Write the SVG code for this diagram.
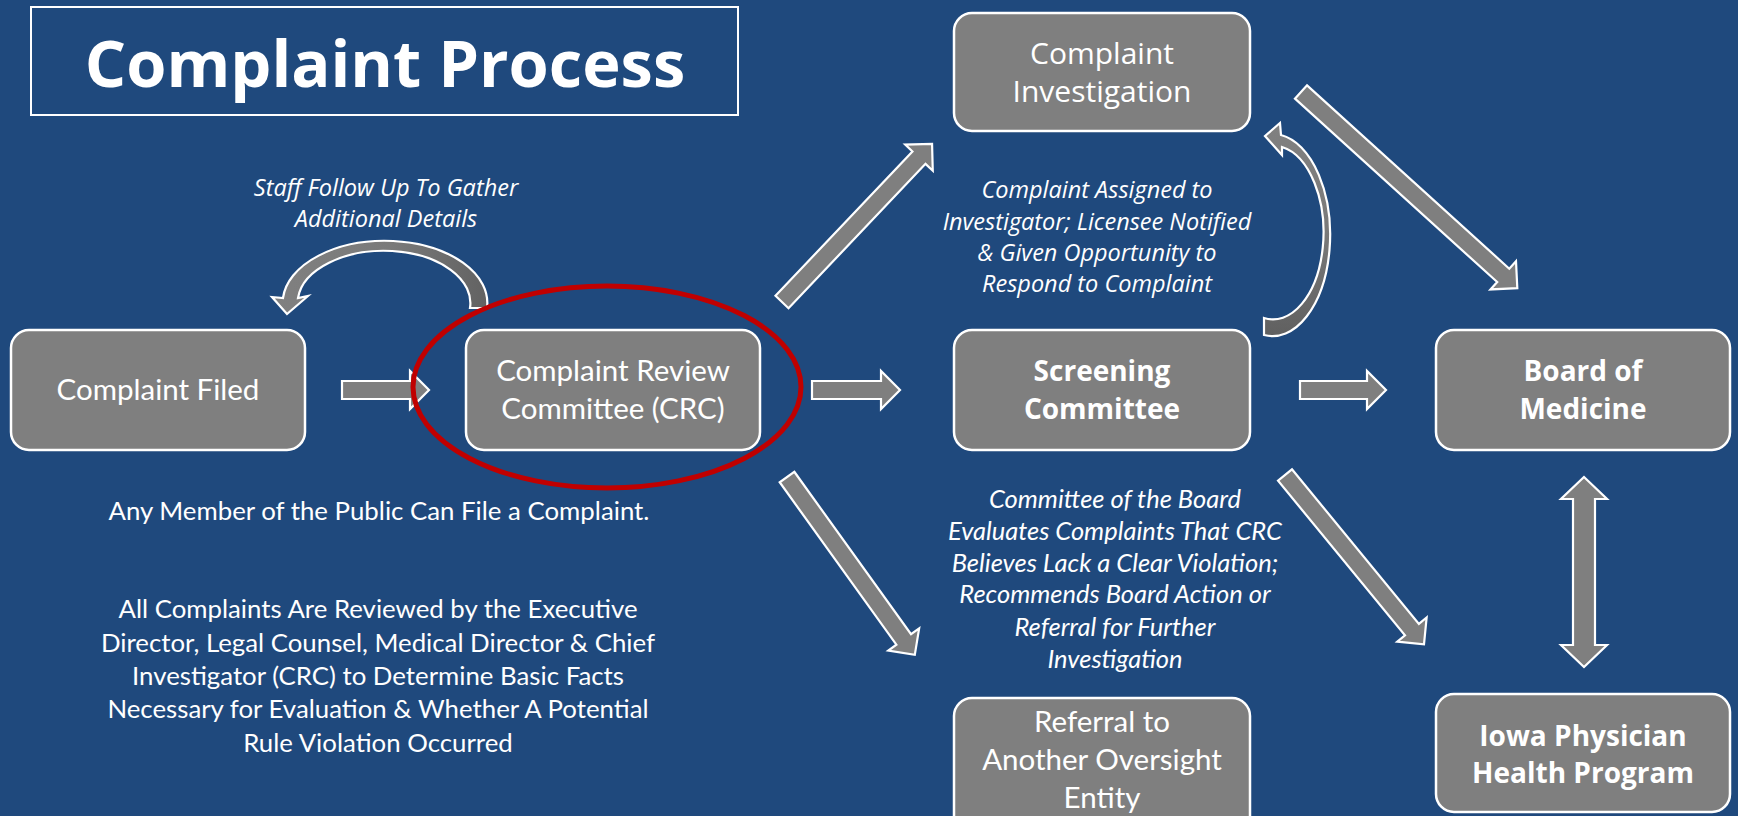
<svg xmlns="http://www.w3.org/2000/svg" width="1738" height="816" viewBox="0 0 1738 816">
  <defs>
    <style>
      .bg { fill: #1F497D; }
      .box { fill: #7F7F7F; stroke: #FFFFFF; stroke-width: 2.5; }
      .arrow { fill: #7F7F7F; stroke: #FFFFFF; stroke-width: 2.2; stroke-linejoin: miter; }
      .t { fill: #FFFFFF; text-anchor: middle; }
      .node { font-family: Lato, "Open Sans", sans-serif; font-size: 29.5px; }
      .wide { font-family: "Open Sans", sans-serif; font-size: 30px; }
      .bold { font-family: "Open Sans", sans-serif; font-size: 28px; font-weight: bold; }
      .note { font-family: "Open Sans", sans-serif; font-size: 23.5px; font-style: italic; }
      .cond { font-family: Lato, sans-serif; font-size: 25.5px; font-style: italic; }
      .body { font-family: Lato, sans-serif; font-size: 25.8px; }
    </style>
    <linearGradient id="curveH" x1="0" y1="0" x2="1" y2="0">
      <stop offset="0" stop-color="#808080"/>
      <stop offset="0.55" stop-color="#7A7A7A"/>
      <stop offset="1" stop-color="#626262"/>
    </linearGradient>
    <linearGradient id="curveV" x1="0" y1="0" x2="0" y2="1">
      <stop offset="0" stop-color="#808080"/>
      <stop offset="0.5" stop-color="#7A7A7A"/>
      <stop offset="1" stop-color="#606060"/>
    </linearGradient>
  </defs>

  <rect class="bg" x="0" y="0" width="1738" height="816"/>

  <!-- title -->
  <g id="title">
    <rect x="31" y="7" width="707" height="108" fill="none" stroke="#FFFFFF" stroke-width="2"/>
    <text class="t" x="385" y="87" font-family="'Open Sans', sans-serif" font-size="65" font-weight="bold">Complaint Process</text>
  </g>

  <!-- connectors -->
  <g id="connectors">
    <!-- straight block arrows, drawn pointing right and rotated into place -->
    <polygon class="arrow" transform="translate(342,390)" points="0,-9 68,-9 68,-19 87,0 68,19 68,9 0,9"/>
    <polygon class="arrow" transform="translate(812,390)" points="0,-9 69,-9 69,-19 88,0 69,19 69,9 0,9"/>
    <polygon class="arrow" transform="translate(1300,390)" points="0,-9 67,-9 67,-19 86,0 67,19 67,9 0,9"/>
    <polygon class="arrow" transform="translate(782,302) rotate(-46.5)" points="0,-9 199,-9 199,-19 218,0 199,19 199,9 0,9"/>
    <polygon class="arrow" transform="translate(787,477) rotate(54.3)" points="0,-9 200,-9 200,-19 219,0 200,19 200,9 0,9"/>
    <polygon class="arrow" transform="translate(1301,92) rotate(42.2)" points="0,-9 273,-9 273,-19 292,0 273,19 273,9 0,9"/>
    <polygon class="arrow" transform="translate(1285,475) rotate(50.6)" points="0,-9 200,-9 200,-19 219,0 200,19 200,9 0,9"/>
    <!-- two-way link between Board and IPHP -->
    <polygon class="arrow" points="1584,477 1607,499 1595,499 1595,645 1607,645 1584,667 1561,645 1573,645 1573,499 1561,499"/>
    <!-- curved arrow: CRC back to Complaint Filed -->
    <path class="arrow" style="fill:url(#curveH)" d="M487,308 A102,62 0 0 0 283,298 L272,297 L287,314 L308,296 L298,298 A86,52 0 0 1 470,308 Z"/>
    <!-- curved arrow: Screening back to Investigation -->
    <path class="arrow" style="fill:url(#curveV)" d="M1264,335 A57,100 0 0 0 1281,135 L1280,123 L1265,136 L1282,155 L1282,147 A50,86 0 0 1 1264,318 Z"/>
  </g>

  <!-- nodes -->
  <g id="complaint-filed">
    <rect class="box" x="11" y="330" width="294" height="120" rx="18"/>
    <text class="t node" x="158" y="400">Complaint Filed</text>
  </g>
  <g id="crc">
    <rect class="box" x="466" y="330" width="294" height="120" rx="18"/>
    <text class="t node" x="613" y="381">Complaint Review</text>
    <text class="t node" x="613" y="419">Committee (CRC)</text>
  </g>
  <g id="crc-highlight">
    <ellipse cx="607" cy="387" rx="194" ry="101" fill="none" stroke="#C00000" stroke-width="5"/>
  </g>
  <g id="investigation">
    <rect class="box" x="954" y="13" width="296" height="118" rx="18"/>
    <text class="t wide" x="1102" y="64">Complaint</text>
    <text class="t wide" x="1102" y="102">Investigation</text>
  </g>
  <g id="screening">
    <rect class="box" x="954" y="330" width="296" height="120" rx="18"/>
    <text class="t bold" x="1102" y="381">Screening</text>
    <text class="t bold" x="1102" y="419">Committee</text>
  </g>
  <g id="board">
    <rect class="box" x="1436" y="330" width="294" height="120" rx="18"/>
    <text class="t bold" x="1583" y="381">Board of</text>
    <text class="t bold" x="1583" y="419">Medicine</text>
  </g>
  <g id="referral">
    <rect class="box" x="954" y="698" width="296" height="140" rx="18"/>
    <text class="t node" x="1102" y="732">Referral to</text>
    <text class="t node" x="1102" y="770">Another Oversight</text>
    <text class="t node" x="1102" y="808">Entity</text>
  </g>
  <g id="iphp">
    <rect class="box" x="1436" y="694" width="294" height="118" rx="18"/>
    <text class="t bold" x="1583" y="746">Iowa Physician</text>
    <text class="t bold" x="1583" y="783">Health Program</text>
  </g>

  <!-- notes -->
  <g id="note-staff">
    <text class="t note" x="386" y="196">Staff Follow Up To Gather</text>
    <text class="t note" x="386" y="227">Additional Details</text>
  </g>
  <g id="note-assigned">
    <text class="t note" x="1097" y="198">Complaint Assigned to</text>
    <text class="t note" x="1097" y="230">Investigator; Licensee Notified</text>
    <text class="t note" x="1097" y="261">&amp; Given Opportunity to</text>
    <text class="t note" x="1097" y="292">Respond to Complaint</text>
  </g>
  <g id="note-screening">
    <text class="t cond" x="1115" y="508">Committee of the Board</text>
    <text class="t cond" x="1115" y="540">Evaluates Complaints That CRC</text>
    <text class="t cond" x="1115" y="572">Believes Lack a Clear Violation;</text>
    <text class="t cond" x="1115" y="603">Recommends Board Action or</text>
    <text class="t cond" x="1115" y="636">Referral for Further</text>
    <text class="t cond" x="1115" y="668">Investigation</text>
  </g>
  <g id="note-public">
    <text class="t body" x="379" y="520">Any Member of the Public Can File a Complaint.</text>
  </g>
  <g id="note-review">
    <text class="t body" x="378" y="618">All Complaints Are Reviewed by the Executive</text>
    <text class="t body" x="378" y="652">Director, Legal Counsel, Medical Director &amp; Chief</text>
    <text class="t body" x="378" y="685">Investigator (CRC) to Determine Basic Facts</text>
    <text class="t body" x="378" y="718">Necessary for Evaluation &amp; Whether A Potential</text>
    <text class="t body" x="378" y="752">Rule Violation Occurred</text>
  </g>
</svg>
